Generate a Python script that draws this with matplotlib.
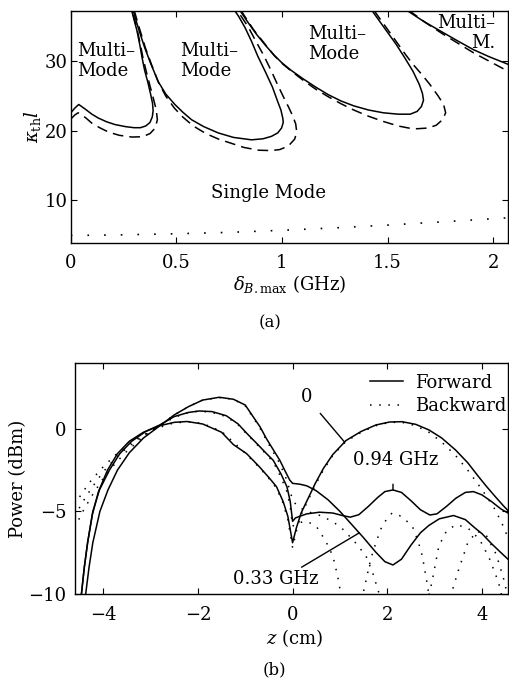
import matplotlib
matplotlib.use("Agg")
import matplotlib.pyplot as plt
from matplotlib.lines import Line2D

plt.rcParams.update({
    "font.family": "DejaVu Serif",
    "mathtext.fontset": "dejavuserif",
    "font.size": 13,
    "axes.linewidth": 1.0,
})

# ── Panel (a): threshold kappa*l vs max detuning ──────────────────────────────
s1_x = [0.000, 0.020, 0.038, 0.07, 0.10, 0.13, 0.17, 0.21, 0.26, 0.30, 0.33, 0.355,
        0.375, 0.386, 0.390, 0.387, 0.378, 0.365, 0.350, 0.338, 0.327, 0.313, 0.300, 0.288]
s1_y = [22.6, 23.3, 23.8, 23.1, 22.4, 21.85, 21.3, 20.9, 20.6, 20.45, 20.45, 20.7,
        21.2, 22.0, 22.9, 24.0, 25.3, 27.0, 28.7, 30.5, 32.4, 34.5, 36.0, 37.4]

s2_x = [0.295, 0.32, 0.35, 0.38, 0.414, 0.45, 0.493, 0.53, 0.572, 0.63, 0.698, 0.77,
        0.856, 0.91, 0.95, 0.98, 0.998, 1.006, 1.004, 0.995, 0.98, 0.955, 0.92, 0.885,
        0.856, 0.825, 0.795, 0.775]
s2_y = [37.4, 34.8, 32.0, 29.6, 27.1, 25.3, 23.8, 22.7, 21.6, 20.6, 19.7, 19.05,
        18.7, 18.85, 19.2, 19.7, 20.4, 21.2, 21.8, 23.0, 24.2, 26.3, 28.6, 30.8,
        32.9, 34.9, 36.5, 37.4]

s3_x = [0.80, 0.84, 0.88, 0.92, 0.96, 1.00, 1.04, 1.10, 1.16, 1.22, 1.28, 1.34, 1.41,
        1.48, 1.55, 1.607, 1.64, 1.66, 1.67, 1.665, 1.65, 1.62, 1.58, 1.54, 1.50, 1.46, 1.425]
s3_y = [37.4, 35.6, 33.9, 32.4, 31.0, 29.8, 28.8, 27.5, 26.3, 25.2, 24.3, 23.6, 23.0,
        22.6, 22.4, 22.4, 22.8, 23.5, 24.4, 25.4, 26.7, 28.6, 30.6, 32.5, 34.2, 35.9, 37.4]

s4_x = [1.59, 1.67, 1.75, 1.83, 1.907, 1.98, 2.07]
s4_y = [37.4, 35.8, 34.4, 33.0, 31.7, 30.7, 29.6]

d1_x = [0.000, 0.020, 0.035, 0.07, 0.10, 0.14, 0.18, 0.23, 0.29, 0.34, 0.375, 0.40,
        0.41, 0.405, 0.39, 0.375, 0.358, 0.342, 0.33, 0.315, 0.302, 0.29]
d1_y = [21.7, 22.3, 22.6, 21.9, 21.1, 20.4, 19.8, 19.35, 19.1, 19.15, 19.6, 20.4,
        21.6, 23.0, 24.8, 26.5, 28.5, 30.5, 32.4, 34.5, 36.0, 37.4]

d2_x = [0.30, 0.325, 0.353, 0.383, 0.415, 0.45, 0.49, 0.53, 0.58, 0.64, 0.70, 0.76,
        0.82, 0.89, 0.95, 0.99, 1.03, 1.06, 1.07, 1.065, 1.05, 1.03, 1.01, 0.98, 0.95,
        0.915, 0.875, 0.84, 0.805, 0.785]
d2_y = [37.4, 34.8, 32.0, 29.5, 27.0, 25.0, 23.3, 22.0, 20.7, 19.6, 18.8, 18.2,
        17.6, 17.2, 17.15, 17.3, 17.8, 18.8, 19.8, 21.0, 22.2, 23.5, 24.7, 26.6, 28.6,
        30.8, 33.0, 35.0, 36.6, 37.4]

d3_x = [0.805, 0.865, 0.925, 0.965, 1.005, 1.045, 1.10, 1.16, 1.22, 1.28, 1.34, 1.41,
        1.48, 1.55, 1.60, 1.64, 1.69, 1.73, 1.76, 1.775, 1.765, 1.74, 1.70, 1.66, 1.62,
        1.585, 1.55, 1.51, 1.47, 1.435]
d3_y = [37.4, 34.6, 32.3, 30.8, 29.6, 28.6, 27.3, 26.0, 24.9, 23.9, 23.0, 22.1,
        21.35, 20.7, 20.4, 20.3, 20.4, 20.8, 21.6, 22.6, 23.8, 25.0, 26.7, 28.2, 29.6,
        31.0, 32.5, 34.2, 35.9, 37.4]

d4_x = [1.60, 1.68, 1.76, 1.84, 1.91, 1.99, 2.07]
d4_y = [37.4, 35.6, 34.0, 32.5, 31.2, 29.9, 28.6]

dot_x = [0.0, 0.25, 0.5, 0.75, 1.0, 1.25, 1.5, 1.75, 2.07]
dot_y = [4.9, 5.0, 5.15, 5.35, 5.65, 6.0, 6.4, 6.85, 7.45]

# ── Panel (b): forward / backward power along z ───────────────────────────────
f0_z = [-4.46, -4.40, -4.33, -4.23, -4.10, -3.91, -3.70, -3.45, -3.15, -2.80, -2.50, -2.23,
        -1.90, -1.50, -1.25, -0.97, -0.70, -0.50, -0.34, -0.20, -0.10, 0.0, 0.08, 0.18,
        0.33, 0.48, 0.65, 0.85, 1.13, 1.45, 1.76, 2.05, 2.31, 2.60, 2.88, 3.15, 3.44,
        3.70, 3.93, 4.10, 4.28, 4.45, 4.55]
f0_p = [-10.0, -8.4, -6.9, -5.2, -3.8, -2.5, -1.5, -0.75, -0.2, 0.2, 0.4, 0.45,
        0.3, -0.2, -0.95, -1.5, -2.3, -2.95, -3.5, -4.4, -5.3, -6.9, -6.0, -5.1,
        -4.2, -3.3, -2.4, -1.55, -0.7, -0.15, 0.24, 0.42, 0.44, 0.28, -0.06, -0.55, -1.27,
        -2.05, -2.9, -3.5, -4.1, -4.65, -4.95]

f094_z = [-4.46, -4.40, -4.33, -4.22, -4.08, -3.87, -3.65, -3.40, -3.10, -2.80, -2.50, -2.20,
          -1.97, -1.70, -1.40, -1.15, -0.97, -0.75, -0.55, -0.41, -0.25, -0.12, -0.05, 0.0,
          0.06, 0.15, 0.30, 0.57, 0.85, 1.05, 1.22, 1.40, 1.60, 1.80, 1.95, 2.12, 2.30,
          2.50, 2.70, 2.90, 3.05, 3.25, 3.45, 3.65, 3.82, 4.00, 4.20, 4.40, 4.55]
f094_p = [-10.0, -8.4, -6.9, -5.0, -3.7, -2.5, -1.5, -0.75, -0.15, 0.25, 0.75, 1.0,
          1.09, 1.05, 0.8, 0.3, -0.26, -0.9, -1.5, -1.9, -2.7, -3.5, -4.4, -5.6,
          -5.4, -5.3, -5.15, -5.05, -5.1, -5.25, -5.35, -5.2, -4.7, -4.15, -3.8, -3.7, -3.85,
          -4.35, -4.9, -5.22, -5.15, -4.7, -4.2, -3.85, -3.8, -4.0, -4.4, -4.85, -5.1]

f033_z = [-4.37, -4.30, -4.22, -4.07, -3.90, -3.70, -3.45, -3.15, -2.80, -2.50, -2.20, -1.90,
          -1.55, -1.25, -1.00, -0.80, -0.69, -0.55, -0.40, -0.27, -0.15, -0.06, 0.0, 0.15,
          0.30, 0.50, 0.75, 1.00, 1.25, 1.50, 1.75, 1.95, 2.12, 2.30, 2.50, 2.70, 2.88,
          3.10, 3.40, 3.65, 3.85, 4.00, 4.20, 4.40, 4.55]
f033_p = [-10.0, -8.4, -6.9, -5.0, -3.7, -2.5, -1.45, -0.55, 0.2, 0.85, 1.35, 1.75,
          1.92, 1.8, 1.45, 0.6, 0.14, -0.6, -1.3, -1.9, -2.6, -3.1, -3.3, -3.35,
          -3.45, -3.75, -4.3, -5.0, -5.8, -6.6, -7.45, -8.05, -8.25, -7.9, -7.05, -6.3, -5.85,
          -5.45, -5.25, -5.5, -6.0, -6.35, -6.95, -7.5, -7.9]

b0_z = [-4.60, -4.45, -4.25, -4.00, -3.75, -3.50, -3.20, -2.90, -2.60, -2.23, -1.90, -1.50,
        -1.25, -0.97, -0.70, -0.50, -0.34, -0.20, -0.10, 0.0, 0.08, 0.18, 0.33, 0.48,
        0.65, 0.85, 1.13, 1.45, 1.76, 2.05, 2.31, 2.60, 2.88, 3.15, 3.44, 3.70, 3.93,
        4.10, 4.28, 4.45, 4.55]
b0_p = [-4.6, -3.9, -3.1, -2.3, -1.6, -1.0, -0.45, 0.0, 0.3, 0.45, 0.33, -0.15,
        -0.8, -1.55, -2.35, -3.0, -3.6, -4.5, -5.5, -7.2, -6.2, -5.2, -4.3, -3.4,
        -2.5, -1.6, -0.75, -0.2, 0.2, 0.4, 0.4, 0.2, -0.2, -0.8, -1.6, -2.5, -3.4,
        -4.1, -4.9, -5.9, -6.6]

b094_z = [-4.60, -4.45, -4.25, -4.00, -3.75, -3.50, -3.20, -2.90, -2.50, -2.20, -1.97, -1.70,
          -1.40, -1.15, -0.97, -0.75, -0.55, -0.41, -0.25, -0.12, -0.05, 0.0, 0.10, 0.30,
          0.50, 0.70, 0.85, 0.95, 1.05, 1.45, 1.55, 1.65, 1.76, 1.90, 2.10, 2.30, 2.53,
          2.65, 2.74, 2.85, 2.90, 3.30, 3.50, 3.70, 3.90, 4.10, 4.30, 4.45, 4.55]
b094_p = [-5.3, -4.5, -3.6, -2.6, -1.8, -1.15, -0.5, 0.05, 0.7, 1.0, 1.08, 1.0,
          0.75, 0.25, -0.3, -0.95, -1.55, -2.0, -2.9, -3.8, -4.7, -5.9, -5.7, -5.6,
          -5.9, -6.8, -7.7, -8.9, -10.5, -10.5, -9.2, -7.9, -6.9, -5.8, -5.1, -5.3, -5.9,
          -6.8, -7.7, -9.5, -10.5, -10.5, -8.6, -6.9, -6.2, -6.5, -7.6, -9.0, -10.2]

b033_z = [-4.60, -4.45, -4.25, -4.00, -3.75, -3.50, -3.20, -2.90, -2.50, -2.20, -1.90, -1.55,
          -1.25, -1.00, -0.80, -0.69, -0.55, -0.40, -0.27, -0.15, -0.06, 0.0, 0.10, 0.30,
          0.64, 1.00, 1.30, 1.55, 1.70, 1.83, 1.90, 2.85, 2.95, 3.09, 3.25, 3.45, 3.70,
          3.95, 4.15, 4.35, 4.45]
b033_p = [-6.0, -5.1, -4.1, -3.0, -2.1, -1.35, -0.6, 0.0, 0.85, 1.35, 1.75, 1.9,
          1.8, 1.4, 0.55, 0.05, -0.7, -1.45, -2.1, -2.9, -3.7, -4.3, -4.7, -5.0,
          -5.3, -5.9, -6.8, -7.7, -8.8, -10.0, -10.5, -10.5, -9.2, -7.1, -6.2, -5.8, -6.0,
          -6.7, -7.8, -9.3, -10.5]

fig = plt.figure(figsize=(5.09, 6.81), dpi=100)
ax1 = fig.add_axes([0.139, 0.643, 0.859, 0.341])
ax2 = fig.add_axes([0.147, 0.128, 0.851, 0.339])

lw = 1.1
dash = (0, (7, 4))
for xs, ys in [(s1_x, s1_y), (s2_x, s2_y), (s3_x, s3_y), (s4_x, s4_y)]:
    ax1.plot(xs, ys, color="black", lw=lw)
for xs, ys in [(d1_x, d1_y), (d2_x, d2_y), (d3_x, d3_y), (d4_x, d4_y)]:
    ax1.plot(xs, ys, color="black", lw=lw, linestyle=dash)
ax1.plot(dot_x, dot_y, color="black", lw=1.2, linestyle=(0, (1, 9)))

ax1.set_xlim(0, 2.07)
ax1.set_ylim(3.8, 37.3)
ax1.set_xticks([0, 0.5, 1, 1.5, 2])
ax1.set_xticklabels(["0", "0.5", "1", "1.5", "2"])
ax1.set_yticks([10, 20, 30])
ax1.tick_params(direction="in", top=True, right=True, length=4)
ax1.tick_params(axis="x", pad=8)
ax1.tick_params(axis="y", pad=2)
ax1.set_xlabel(r"$\delta_{B.\mathrm{max}}$ (GHz)")
ax1.xaxis.set_label_coords(0.5, -0.13)
ax1.set_ylabel(r"$\kappa_{\mathrm{th}}l$")
ax1.yaxis.set_label_coords(-0.064, 0.5)

ax1.text(0.028, 30.1, "Multi–\nMode", ha="left", va="center", linespacing=1.15)
ax1.text(0.517, 30.1, "Multi–\nMode", ha="left", va="center", linespacing=1.15)
ax1.text(1.125, 32.5, "Multi–\nMode", ha="left", va="center", linespacing=1.15)
ax1.text(2.01, 34.1, "Multi–\nM.", ha="right", va="center", linespacing=1.15,
         multialignment="right")
ax1.text(0.935, 11.1, "Single Mode", ha="center", va="center")

bdot = (0, (1, 5))
for zs, ps in [(f0_z, f0_p), (f094_z, f094_p), (f033_z, f033_p)]:
    ax2.plot(zs, ps, color="black", lw=lw)
for zs, ps in [(b0_z, b0_p), (b094_z, b094_p), (b033_z, b033_p)]:
    ax2.plot(zs, ps, color="black", lw=1.1, linestyle=bdot)

ax2.set_xlim(-4.6, 4.55)
ax2.set_ylim(-10, 4)
ax2.set_xticks([-4, -2, 0, 2, 4])
ax2.set_yticks([-10, -5, 0])
ax2.tick_params(direction="in", top=True, right=True, length=4)
ax2.tick_params(axis="x", pad=9)
ax2.tick_params(axis="y", pad=6)
ax2.set_xlabel(r"$z$ (cm)")
ax2.xaxis.set_label_coords(0.507, -0.145)
ax2.set_ylabel("Power (dBm)")
ax2.yaxis.set_label_coords(-0.111, 0.5)

handles = [Line2D([], [], color="black", lw=lw),
           Line2D([], [], color="black", lw=1.1, linestyle=(0, (1, 5)))]
ax2.legend(handles, ["Forward", "Backward"], loc="upper right", frameon=False,
           handlelength=1.8, handletextpad=0.7, borderaxespad=0.1, labelspacing=0.3,
           bbox_to_anchor=(1.018, 0.993))

ax2.annotate("0", xy=(1.09, -0.77), xytext=(0.29, 1.94), ha="center", va="center",
             arrowprops=dict(arrowstyle="-", lw=1.0, color="black", shrinkA=6, shrinkB=0))
ax2.annotate("0.94 GHz", xy=(2.12, -3.7), xytext=(2.18, -1.88), ha="center", va="center",
             arrowprops=dict(arrowstyle="-", lw=1.0, color="black", shrinkA=9, shrinkB=0,
                             relpos=(0.47, 0.0)))
ax2.annotate("0.33 GHz", xy=(1.41, -6.3), xytext=(-0.36, -9.1), ha="center", va="center",
             arrowprops=dict(arrowstyle="-", lw=1.0, color="black", shrinkA=0, shrinkB=0,
                             relpos=(0.75, 1.0)))

fig.text(0.53, 0.526, "(a)", ha="center", va="center", fontsize=12)
fig.text(0.54, 0.016, "(b)", ha="center", va="center", fontsize=12)

fig.savefig("out.png", dpi=100)
